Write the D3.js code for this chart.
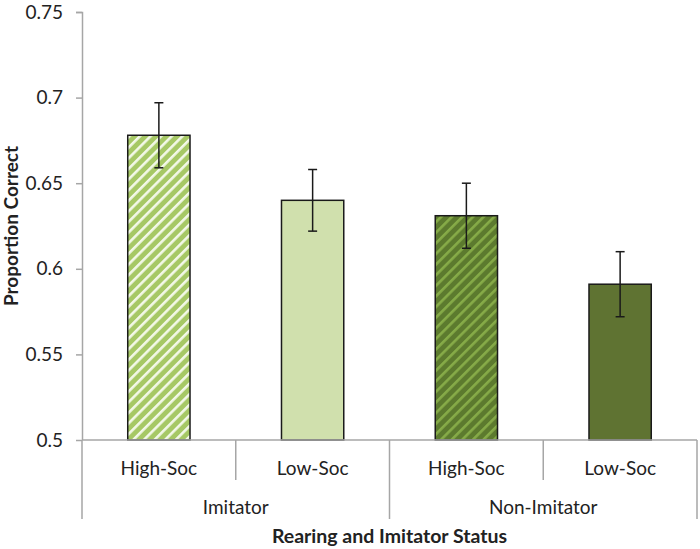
<!DOCTYPE html>
<html>
<head>
<meta charset="utf-8">
<script src="https://cdn.jsdelivr.net/npm/d3@7"></script>
<style>
  body { margin: 0; background: #fff; }
  text { font-family: Lato, "Open Sans", sans-serif; fill: #222; }
</style>
</head>
<body>
<div id="chartdiv"></div>
<script>
// data
var groups = ["Imitator", "Non-Imitator"];
var rearing = ["High-Soc", "Low-Soc"];
var values = [0.678, 0.640, 0.631, 0.591];
var errors = [0.019, 0.018, 0.019, 0.019];
var yTicks = [0.5, 0.55, 0.6, 0.65, 0.7, 0.75];

var bars = [];
groups.forEach(function(g, gi) {
  rearing.forEach(function(r, ri) {
    var i = gi * rearing.length + ri;
    bars.push({ key: g + "|" + r, group: g, rear: r, value: values[i], err: errors[i], idx: i });
  });
});

var W = 700, H = 549;
var margin = {top: 12, right: 3, bottom: 109, left: 82},
    width = W - margin.left - margin.right,
    height = H - margin.top - margin.bottom;

var svg = d3.select("#chartdiv").append("svg")
    .attr("width", W)
    .attr("height", H)
  .append("g")
    .attr("transform", "translate(" + margin.left + "," + margin.top + ")");

// patterns
var defs = d3.select("svg").append("defs");
function stripes(id, bg, fg) {
  var p = defs.append("pattern")
    .attr("id", id)
    .attr("patternUnits", "userSpaceOnUse")
    .attr("width", 7.5).attr("height", 7.5)
    .attr("patternTransform", "rotate(45)");
  p.append("rect").attr("width", 7.5).attr("height", 7.5).attr("fill", bg);
  p.append("rect").attr("x", 0).attr("width", 2.6).attr("height", 7.5).attr("fill", fg);
}
stripes("hatchLight", "#a6c865", "#f3f8e8");
stripes("hatchDark", "#5c7a2e", "#86ab48");
var fills = ["url(#hatchLight)", "#d0e0ad", "url(#hatchDark)", "#5f7332"];

var x = d3.scaleBand()
  .domain(bars.map(d => d.key))
  .range([0, width])
  .paddingInner(0)
  .paddingOuter(0);

var y = d3.scaleLinear()
  .domain([0.5, 0.75])
  .range([height, 0]);

var bw = x.bandwidth() * 0.405;
var fs = "19px";

// y axis
var yAxis = svg.append("g")
  .attr("class", "yaxis")
  .call(d3.axisLeft(y).tickValues(yTicks).tickSize(6).tickPadding(13).tickFormat(d => d3.format("")(d)));
yAxis.select(".domain").attr("stroke", "#a6a6a6").attr("stroke-width", 1.5).attr("d", "M-6,0.5H0.5V" + height);
yAxis.selectAll(".tick line").attr("stroke", "#a6a6a6").attr("stroke-width", 1.5);
yAxis.selectAll(".tick text").attr("font-size", fs).attr("font-family", "Lato, sans-serif").attr("fill", "#222");

// bars
svg.selectAll(".bar")
    .data(bars)
  .enter().append("rect")
    .attr("class", "bar")
    .attr("x", d => x(d.key) + (x.bandwidth() - bw) / 2)
    .attr("width", bw)
    .attr("y", d => y(d.value))
    .attr("height", d => y(0.5) - y(d.value))
    .attr("fill", (d, i) => fills[i])
    .attr("stroke", "#1a1a1a")
    .attr("stroke-width", 1.5);

// error bars
var eb = svg.selectAll(".err")
    .data(bars)
  .enter().append("g")
    .attr("class", "err")
    .attr("stroke", "#1a1a1a")
    .attr("stroke-width", 1.5);
eb.append("line")
  .attr("x1", d => x(d.key) + x.bandwidth() / 2)
  .attr("x2", d => x(d.key) + x.bandwidth() / 2)
  .attr("y1", d => y(d.value + d.err))
  .attr("y2", d => y(d.value - d.err));
eb.append("line")
  .attr("x1", d => x(d.key) + x.bandwidth() / 2 - 4.5)
  .attr("x2", d => x(d.key) + x.bandwidth() / 2 + 4.5)
  .attr("y1", d => y(d.value + d.err))
  .attr("y2", d => y(d.value + d.err));
eb.append("line")
  .attr("x1", d => x(d.key) + x.bandwidth() / 2 - 4.5)
  .attr("x2", d => x(d.key) + x.bandwidth() / 2 + 4.5)
  .attr("y1", d => y(d.value - d.err))
  .attr("y2", d => y(d.value - d.err));

// x axis baseline
var xaxis = svg.append("g").attr("class", "xaxis").attr("stroke", "#a6a6a6").attr("stroke-width", 1.5);
xaxis.append("line")
  .attr("x1", 0).attr("x2", width)
  .attr("y1", height).attr("y2", height);

// dividers: short ones between sub categories, long ones between groups and at the ends
var edges = bars.map(d => x(d.key)).concat([width]);
edges.forEach(function(e, i) {
  var isGroupEdge = (i % rearing.length) === 0;
  xaxis.append("line")
    .attr("x1", e).attr("x2", e)
    .attr("y1", height)
    .attr("y2", isGroupEdge ? height + 79 : height + 40);
});

// sub category labels
svg.selectAll(".sublab")
    .data(bars)
  .enter().append("text")
    .attr("class", "sublab")
    .attr("x", d => x(d.key) + x.bandwidth() / 2)
    .attr("y", height + 35)
    .attr("text-anchor", "middle")
    .attr("font-size", fs)
    .text(d => d.rear);

// group labels
svg.selectAll(".grouplab")
    .data(groups)
  .enter().append("text")
    .attr("class", "grouplab")
    .attr("x", (g, gi) => {
      var first = x(g + "|" + rearing[0]);
      var last = x(g + "|" + rearing[rearing.length - 1]) + x.bandwidth();
      return (first + last) / 2;
    })
    .attr("y", height + 74)
    .attr("text-anchor", "middle")
    .attr("font-size", fs)
    .text(g => g);

// axis titles
svg.append("text")
  .attr("x", width / 2)
  .attr("y", height + 103)
  .attr("text-anchor", "middle")
  .attr("font-size", "19.5px")
  .attr("font-weight", "700")
  .attr("fill", "#111")
  .text("Rearing and Imitator Status");

svg.append("text")
  .attr("transform", "translate(" + (-64) + "," + (height / 2) + ") rotate(-90)")
  .attr("text-anchor", "middle")
  .attr("font-size", "19px")
  .attr("font-weight", "700")
  .attr("fill", "#111")
  .text("Proportion Correct");
</script>
</body>
</html>
